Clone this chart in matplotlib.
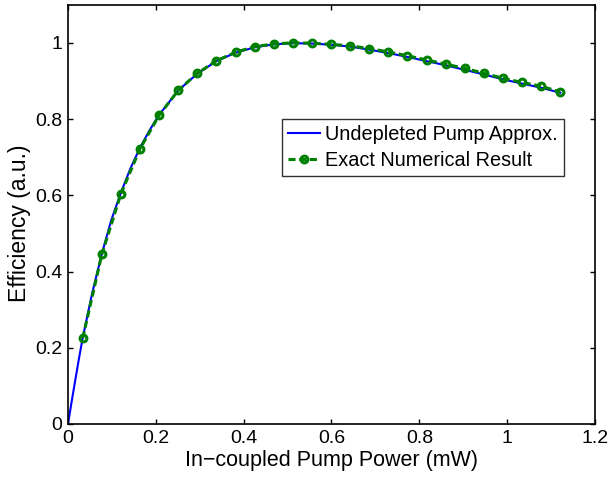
import matplotlib
matplotlib.use("Agg")
import matplotlib.pyplot as plt

plt.rcParams['font.family'] = ['Liberation Sans', 'DejaVu Sans']

# Undepleted pump approximation (blue curve)
approx_x = [0.0, 0.0085, 0.0167, 0.025, 0.0335, 0.055, 0.077, 0.098, 0.1205, 0.142, 0.164,
            0.186, 0.2075, 0.251, 0.2945, 0.338, 0.3815, 0.425, 0.4685, 0.512, 0.5555,
            0.599, 0.6425, 0.686, 0.7295, 0.773, 0.8165, 0.86, 0.9035, 0.947, 0.9905,
            1.034, 1.0775, 1.121]
approx_y = [0.0, 0.060, 0.116, 0.172, 0.226, 0.343, 0.446, 0.533, 0.607, 0.670, 0.725,
            0.771, 0.811, 0.875, 0.919, 0.952, 0.974, 0.988, 0.996, 0.999, 0.998,
            0.995, 0.99, 0.982, 0.973, 0.963, 0.952, 0.941, 0.929, 0.917, 0.904,
            0.893, 0.882, 0.869]

# Exact numerical result (green dashed with markers)
exact_x = [0.0335, 0.077, 0.1205, 0.164, 0.2075, 0.251, 0.2945, 0.338, 0.3815, 0.425,
           0.4685, 0.512, 0.5555, 0.599, 0.6425, 0.686, 0.7295, 0.773, 0.8165, 0.86,
           0.9035, 0.947, 0.9905, 1.034, 1.0775, 1.121]
exact_y = [0.225, 0.445, 0.604, 0.722, 0.81, 0.875, 0.92, 0.953, 0.975, 0.99,
           0.997, 1.0, 0.999, 0.996, 0.992, 0.985, 0.976, 0.966, 0.955, 0.944,
           0.933, 0.92, 0.907, 0.896, 0.886, 0.871]

xticks = [0, 0.2, 0.4, 0.6, 0.8, 1.0, 1.2]
xticklabels = ['0', '0.2', '0.4', '0.6', '0.8', '1', '1.2']
yticks = [0, 0.2, 0.4, 0.6, 0.8, 1.0]
yticklabels = ['0', '0.2', '0.4', '0.6', '0.8', '1']

fig = plt.figure(figsize=(6.11, 4.78), dpi=100)
ax = fig.add_axes([0.1113, 0.1130, 0.8625, 0.8772])

ax.plot(approx_x, approx_y, color='#0000ff', linewidth=1.5, label='Undepleted Pump Approx.')
ax.plot(exact_x, exact_y, color='#008000', linewidth=2.2, linestyle=(0, (2.3, 1.2)),
        marker='o', markersize=4.9, markerfacecolor='none', markeredgewidth=2.2,
        label='Exact Numerical Result')

ax.set_xlim(0, 1.2)
ax.set_ylim(0, 1.1)
ax.set_xticks(xticks)
ax.set_xticklabels(xticklabels)
ax.set_yticks(yticks)
ax.set_yticklabels(yticklabels)
ax.tick_params(direction='in', length=3.5, width=1.0, top=True, right=True, labelsize=14,
               pad=4)
for s in ax.spines.values():
    s.set_linewidth(1.2)

ax.set_xlabel('In\u2212coupled Pump Power (mW)', fontsize=15.5)
ax.set_ylabel('Efficiency (a.u.)', fontsize=16.5)
ax.xaxis.set_label_coords(0.5, -0.062)
ax.yaxis.set_label_coords(-0.071, 0.478)

leg = ax.legend(loc='upper right', bbox_to_anchor=(0.941, 0.7274), fontsize=14.3,
                frameon=True, fancybox=False, edgecolor='black', borderaxespad=0,
                handlelength=1.65, handletextpad=0.25, borderpad=0.3, labelspacing=0.35)
leg.get_frame().set_linewidth(1.0)

fig.savefig('out.png', dpi=100)
